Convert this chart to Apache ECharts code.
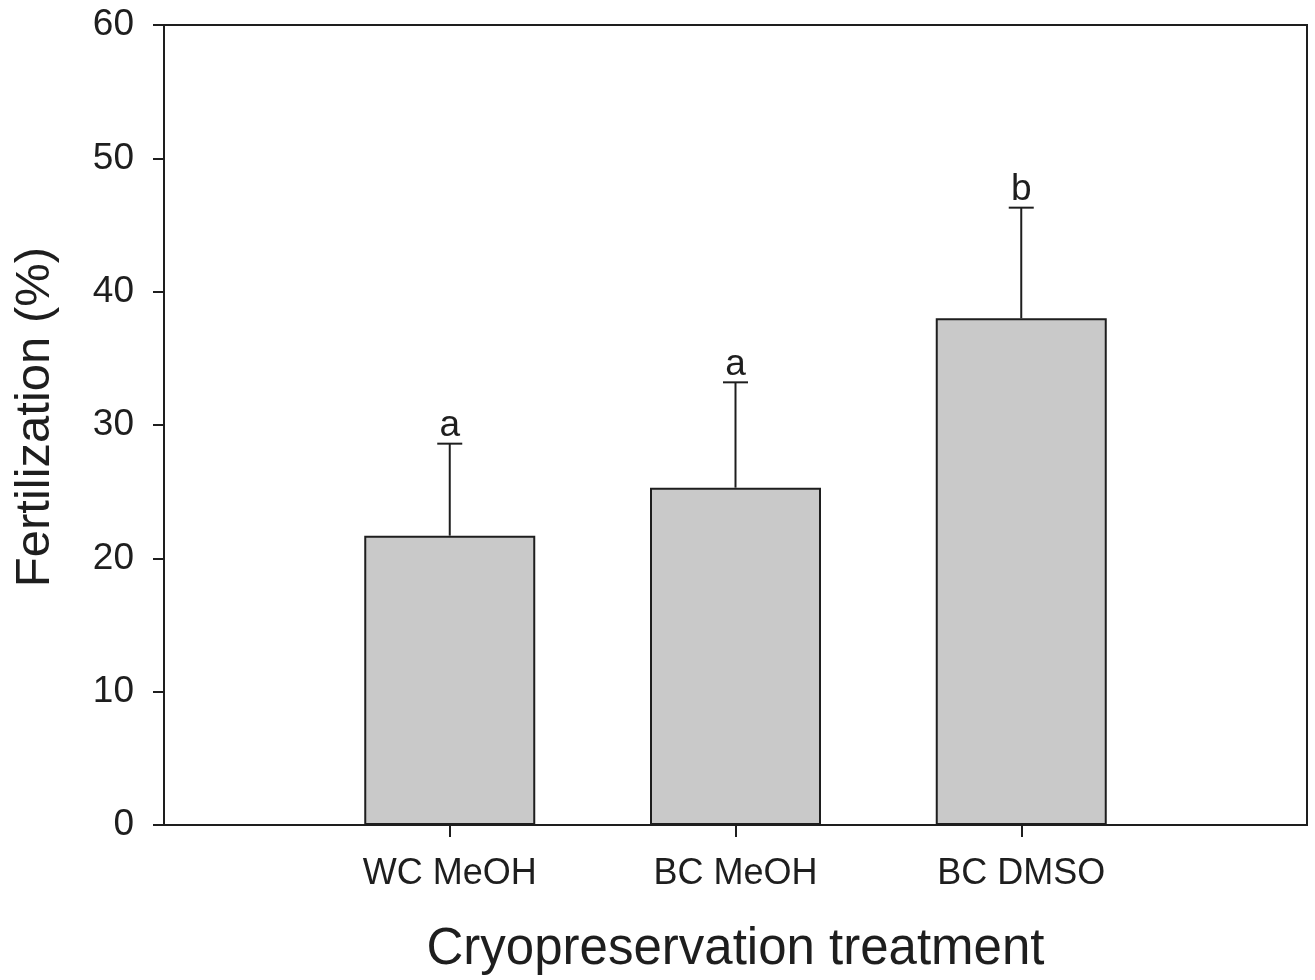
<!DOCTYPE html>
<html>
<head>
<meta charset="utf-8">
<script src="https://cdn.jsdelivr.net/npm/echarts@6/dist/echarts.min.js"></script>
<style>
html,body{margin:0;padding:0;background:#fff;}
#chart{width:1315px;height:980px;}
</style>
</head>
<body>
<div id="chart"></div>
<script>
const categories = ['WC MeOH', 'BC MeOH', 'BC DMSO'];
const means = [21.7, 25.3, 38.0];
const errorTops = [28.6, 33.2, 46.3];
const letters = ['a', 'a', 'b'];
const yTicks = [0, 10, 20, 30, 40, 50, 60];

const FONT = "'Liberation Sans', Arial, sans-serif";
const INK = '#1e1e1e';

// padded category axis: one empty slot on each side
const axisCats = [''].concat(categories, ['']);
const barData = [null].concat(means, [null]);
const errData = categories.map((c, i) => [i + 1, means[i], errorTops[i], letters[i]]);

const chart = echarts.init(document.getElementById('chart'), null, {renderer: 'canvas'});
chart.setOption({
  animation: false,
  backgroundColor: '#ffffff',
  grid: {
    left: 164, right: 8, top: 25, bottom: 155,
    show: true, borderColor: INK, borderWidth: 2, backgroundColor: 'transparent'
  },
  xAxis: {
    type: 'category',
    data: axisCats,
    boundaryGap: false,
    name: 'Cryopreservation treatment',
    nameLocation: 'middle',
    nameGap: 99,
    nameTextStyle: {fontFamily: FONT, fontSize: 51, color: INK},
    axisLine: {show: true, lineStyle: {color: INK, width: 2}},
    axisTick: {show: true, length: 12, inside: false, lineStyle: {color: INK, width: 2},
      interval: function (idx) { return idx > 0 && idx < axisCats.length - 1; }},
    axisLabel: {fontFamily: FONT, fontSize: 36, color: INK, margin: 31,
      interval: function (idx) { return idx > 0 && idx < axisCats.length - 1; }},
    splitLine: {show: false}
  },
  yAxis: {
    type: 'value',
    min: yTicks[0], max: yTicks[yTicks.length - 1], interval: 10,
    name: 'Fertilization (%)',
    nameLocation: 'middle',
    nameGap: 104,
    nameTextStyle: {fontFamily: FONT, fontSize: 49, color: INK, padding: [0, 0, 0, 16]},
    axisLine: {show: true, lineStyle: {color: INK, width: 2}},
    axisTick: {show: true, length: 11, inside: false, lineStyle: {color: INK, width: 2}},
    axisLabel: {fontFamily: FONT, fontSize: 37, color: INK, margin: 30},
    splitLine: {show: false}
  },
  series: [
    {
      type: 'bar',
      data: barData,
      barWidth: 171,
      itemStyle: {color: '#c9c9c9', borderColor: INK, borderWidth: 2},
      z: 2
    },
    {
      type: 'custom',
      data: errData,
      z: 3,
      renderItem: function (params, api) {
        const x = api.value(0);
        const base = api.coord([x, api.value(1)]);
        const top = api.coord([x, api.value(2)]);
        const half = 12.5;
        return {
          type: 'group',
          children: [
            {type: 'line', shape: {x1: base[0], y1: base[1], x2: top[0], y2: top[1]},
              style: {stroke: INK, lineWidth: 2}},
            {type: 'line', shape: {x1: top[0] - half, y1: top[1], x2: top[0] + half, y2: top[1]},
              style: {stroke: INK, lineWidth: 2}},
            {type: 'text', x: top[0], y: top[1] + 1,
              style: {text: errData[params.dataIndex][3], fontFamily: FONT, fontSize: 37,
                fill: INK, align: 'center', verticalAlign: 'bottom'}}
          ]
        };
      }
    }
  ]
});
</script>
</body>
</html>
